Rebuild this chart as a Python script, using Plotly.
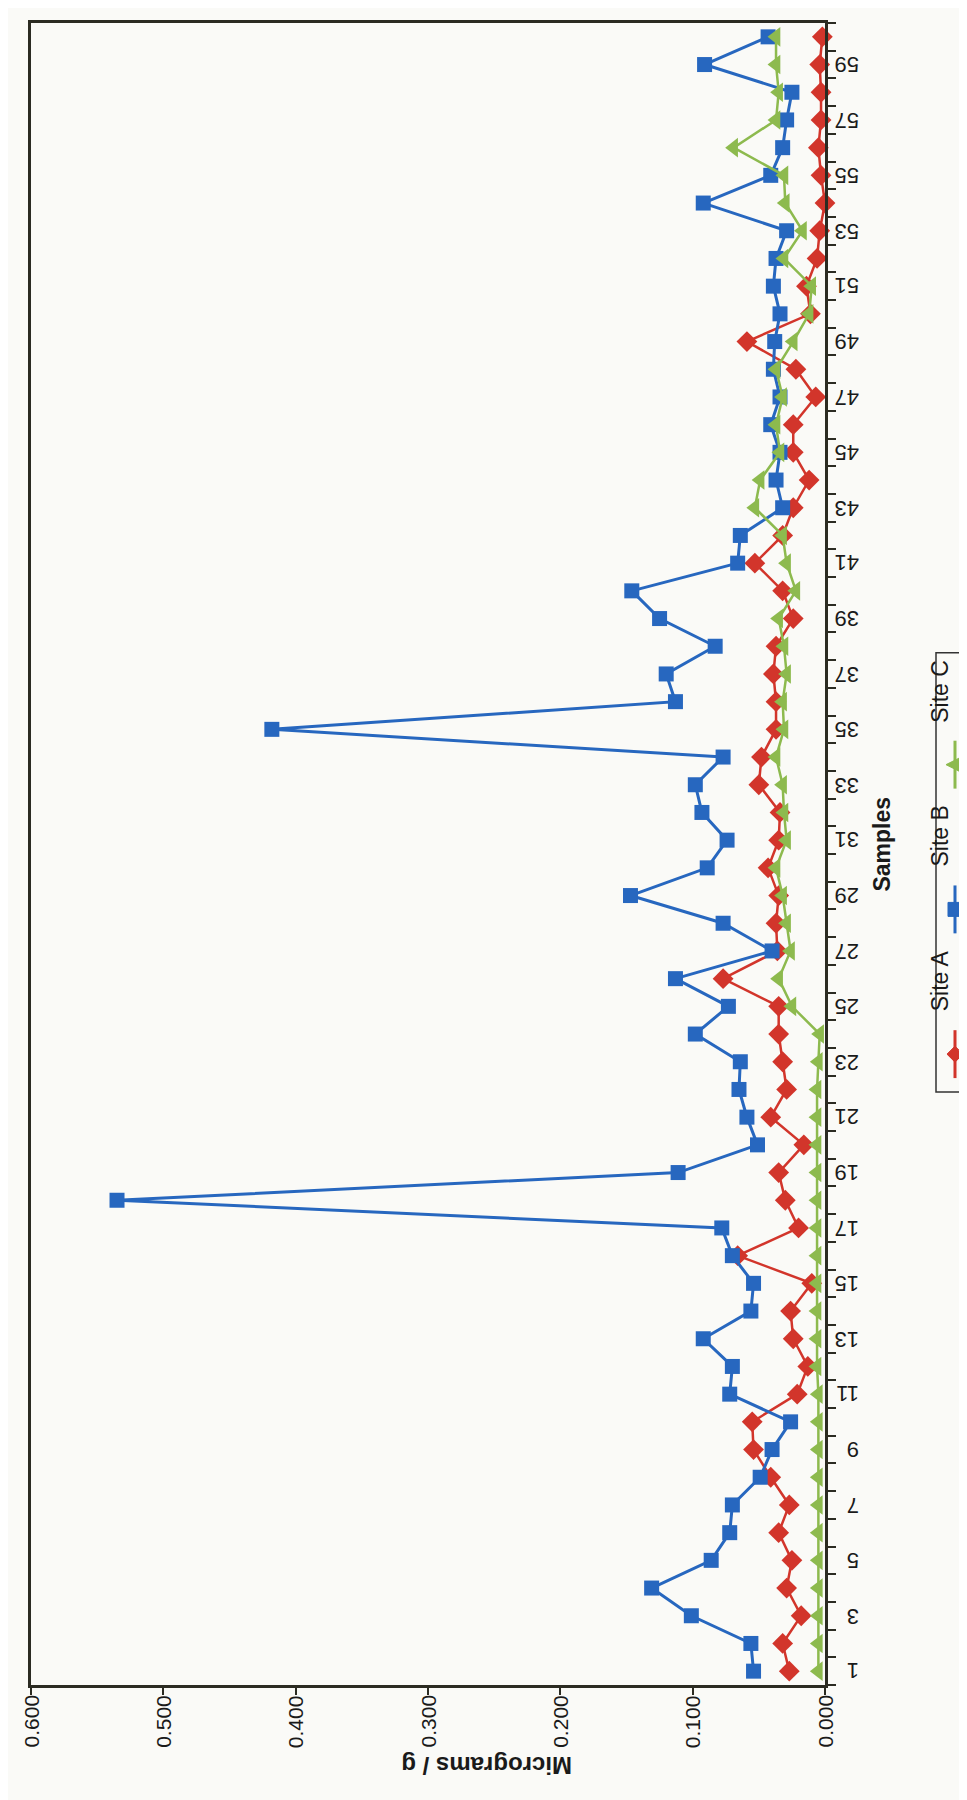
import plotly.graph_objects as go

# ---------------- data ----------------
samples = list(range(1, 61))

site_a = [0.027, 0.032, 0.018, 0.029, 0.025, 0.035, 0.027, 0.041, 0.054, 0.055,
          0.021, 0.013, 0.024, 0.026, 0.010, 0.066, 0.020, 0.030, 0.035, 0.016,
          0.041, 0.029, 0.032, 0.035, 0.035, 0.077, 0.036, 0.037, 0.035, 0.043,
          0.035, 0.034, 0.050, 0.048, 0.037, 0.037, 0.039, 0.037, 0.024, 0.032,
          0.053, 0.032, 0.024, 0.012, 0.024, 0.024, 0.007, 0.022, 0.059, 0.011,
          0.014, 0.006, 0.004, 0.000, 0.003, 0.005, 0.003, 0.003, 0.004, 0.002]

site_b = [0.054, 0.056, 0.101, 0.131, 0.086, 0.072, 0.070, 0.049, 0.040, 0.026,
          0.072, 0.070, 0.092, 0.056, 0.054, 0.070, 0.078, 0.535, 0.111, 0.051,
          0.059, 0.065, 0.064, 0.098, 0.073, 0.113, 0.040, 0.077, 0.147, 0.089,
          0.074, 0.093, 0.098, 0.077, 0.418, 0.113, 0.120, 0.083, 0.125, 0.146,
          0.066, 0.064, 0.032, 0.037, 0.034, 0.041, 0.034, 0.039, 0.038, 0.034,
          0.039, 0.037, 0.029, 0.092, 0.041, 0.032, 0.029, 0.025, 0.091, 0.043]

site_c = [0.005, 0.005, 0.005, 0.005, 0.005, 0.005, 0.005, 0.005, 0.005, 0.005,
          0.005, 0.006, 0.006, 0.006, 0.006, 0.006, 0.006, 0.006, 0.006, 0.006,
          0.006, 0.006, 0.005, 0.004, 0.025, 0.035, 0.026, 0.029, 0.032, 0.037,
          0.029, 0.031, 0.032, 0.037, 0.031, 0.032, 0.029, 0.031, 0.035, 0.022,
          0.029, 0.032, 0.053, 0.049, 0.034, 0.037, 0.032, 0.037, 0.024, 0.012,
          0.010, 0.031, 0.017, 0.030, 0.031, 0.069, 0.037, 0.035, 0.037, 0.037]

series_names = ["Site A", "Site B", "Site C"]
value_ticks = [0.0, 0.1, 0.2, 0.3, 0.4, 0.5, 0.6]
value_tick_labels = ["0.000", "0.100", "0.200", "0.300", "0.400", "0.500", "0.600"]
sample_ticks = list(range(1, 60, 2))
sample_tick_labels = [str(s) for s in sample_ticks]

# ---------------- style ----------------
W, H = 967, 1800
L, R, T, B = 23, 150, 12, 123
PW, PH = W - L - R, H - T - B

RED = "#D2352B"
BLUE = "#2767BF"
GREEN = "#8DBA4E"
AXIS = "#2b2b22"
BG = "#FAFAF7"
FONT = "Liberation Sans, Arial, sans-serif"
TXT = "#1a1a1a"


def px_x(px):
    return (px - L) / PW


def px_y(py):
    return (H - B - py) / PH


styles = [
    dict(color=RED, symbol="diamond", size=16, lw=2.5),
    dict(color=BLUE, symbol="square", size=15, lw=3),
    dict(color=GREEN, symbol="triangle-left", size=17, lw=2.5),
]

fig = go.Figure()
for name, vals, st in zip(series_names, [site_a, site_b, site_c], styles):
    fig.add_trace(go.Scatter(
        x=vals, y=samples, mode="lines+markers", name=name,
        line=dict(color=st["color"], width=st["lw"]),
        marker=dict(symbol=st["symbol"], size=st["size"], color=st["color"]),
        showlegend=False, cliponaxis=False,
    ))

fig.update_layout(
    width=W, height=H,
    margin=dict(l=L, r=R, t=T, b=B, pad=0),
    paper_bgcolor=BG, plot_bgcolor=BG,
    font=dict(family=FONT, color=TXT),
    xaxis=dict(
        range=[0.6, 0.0], tickvals=value_ticks, ticktext=[""] * len(value_ticks),
        ticks="outside", ticklen=7, tickwidth=2, tickcolor=AXIS,
        showline=True, linewidth=3, linecolor=AXIS, mirror=True,
        showgrid=False, zeroline=False,
    ),
    yaxis=dict(
        range=[0.5, 60.5], side="right", tickvals=sample_ticks, ticktext=[""] * len(sample_ticks),
        ticks="",
        minor=dict(tick0=0.5, dtick=1, ticks="outside", ticklen=8, tickwidth=2, tickcolor=AXIS),
        showline=True, linewidth=3, linecolor=AXIS, mirror=True,
        showgrid=False, zeroline=False,
    ),
)

# value labels, reading bottom-to-top as on the scanned page
for v, lab in zip(value_ticks, value_tick_labels):
    fig.add_annotation(text=lab, xref="x", yref="paper", x=v, y=px_y(1685),
                       yanchor="top", textangle=-90, showarrow=False,
                       font=dict(family=FONT, size=21, color=TXT))

# sample labels, upside down as on the scanned page
for s, lab in zip(sample_ticks, sample_tick_labels):
    fig.add_annotation(text=lab, xref="paper", yref="y", x=px_x(853), y=s,
                       textangle=180, showarrow=False,
                       font=dict(family=FONT, size=22, color=TXT))

# axis titles (rotated like the scanned page)
fig.add_annotation(text="<b>Micrograms / g</b>", xref="paper", yref="paper",
                   x=px_x(478), y=px_y(1773), textangle=180, showarrow=False,
                   font=dict(family=FONT, size=24, color=TXT))
fig.add_annotation(text="<b>Samples</b>", xref="paper", yref="paper",
                   x=px_x(889), y=px_y(835), textangle=-90, showarrow=False,
                   font=dict(family=FONT, size=23, color=TXT))

# legend (drawn rotated)
lx0, lx1, ly0, ly1 = 928, 966, 643, 1083
fig.add_shape(type="rect", xref="paper", yref="paper",
              x0=px_x(lx0), x1=px_x(lx1), y0=px_y(ly0), y1=px_y(ly1),
              line=dict(color="#333333", width=1.5), fillcolor=BG, layer="above")
cx = (lx0 + lx1) / 2
sym_centers = [1045, 900, 755]
text_centers = [972, 827, 682]
for name, st, sc, tc in zip(series_names, styles, sym_centers, text_centers):
    fig.add_shape(type="line", xref="paper", yref="paper",
                  x0=px_x(cx), x1=px_x(cx), y0=px_y(sc - 24), y1=px_y(sc + 24),
                  line=dict(color=st["color"], width=3), layer="above")
    if st["symbol"] == "diamond":
        pts = [(cx - 8, sc), (cx, sc - 8), (cx + 8, sc), (cx, sc + 8)]
    elif st["symbol"] == "square":
        pts = [(cx - 7, sc - 7), (cx + 7, sc - 7), (cx + 7, sc + 7), (cx - 7, sc + 7)]
    else:
        pts = [(cx - 9, sc), (cx + 7, sc - 8), (cx + 7, sc + 8)]
    path = "M " + " L ".join(f"{px_x(a):.5f},{px_y(b):.5f}" for a, b in pts) + " Z"
    fig.add_shape(type="path", xref="paper", yref="paper", path=path,
                  fillcolor=st["color"], line=dict(color=st["color"], width=1), layer="above")
    fig.add_annotation(text=name, xref="paper", yref="paper",
                       x=px_x(cx), y=px_y(tc), textangle=-90, showarrow=False,
                       font=dict(family=FONT, size=23, color=TXT))

fig.write_html("out.html")
